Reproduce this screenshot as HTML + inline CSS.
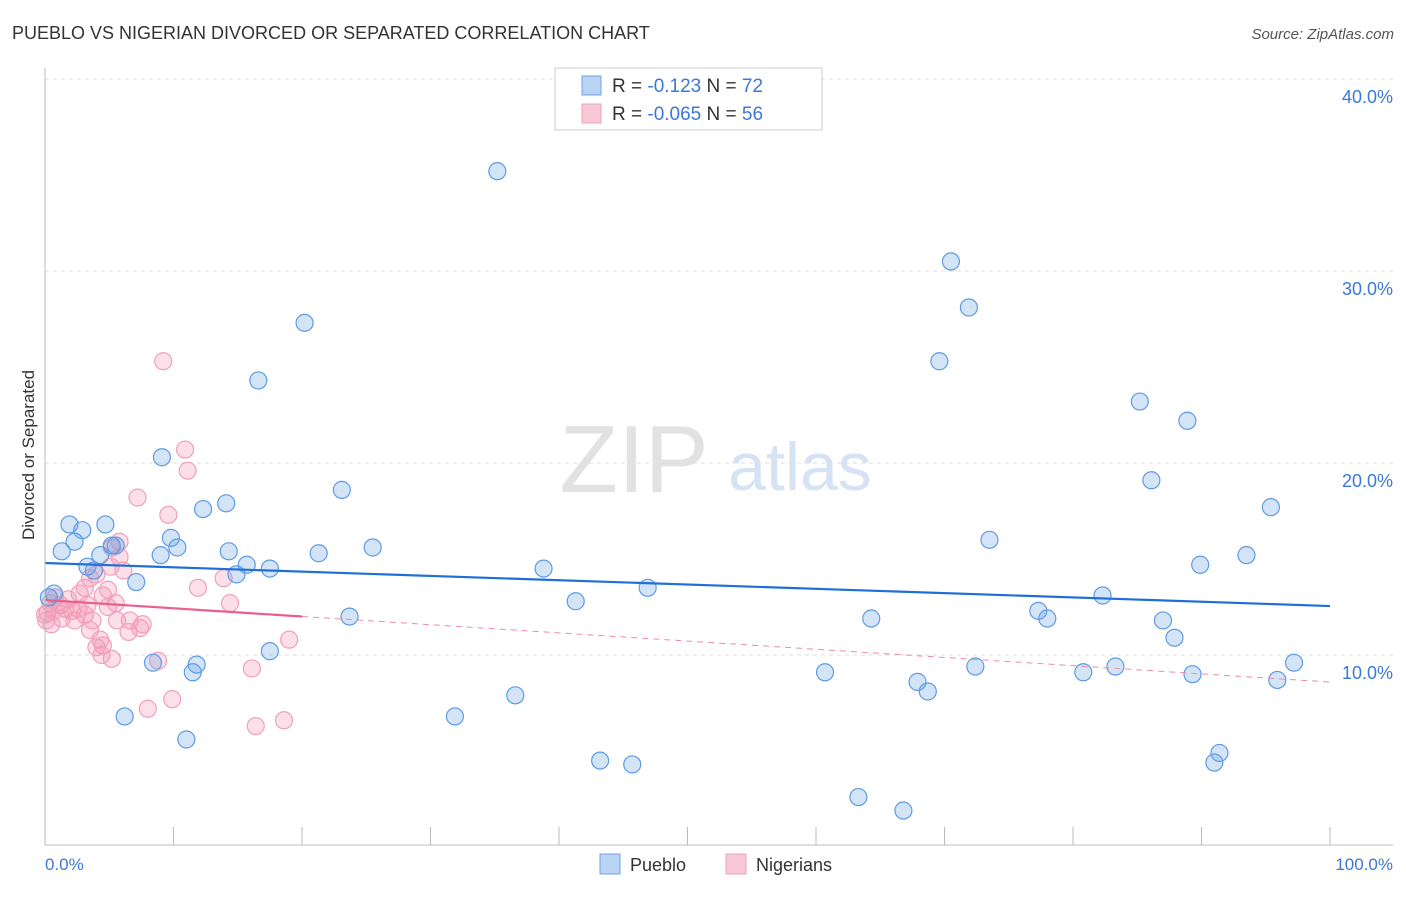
<!DOCTYPE html>
<html><head><meta charset="utf-8"><style>
body{margin:0;background:#fff;font-family:"Liberation Sans",sans-serif}
svg text{font-family:"Liberation Sans",sans-serif}
</style></head><body>
<svg id="c" width="1406" height="892" xmlns="http://www.w3.org/2000/svg">
<text x="12" y="39" font-size="18" fill="#333">PUEBLO VS NIGERIAN DIVORCED OR SEPARATED CORRELATION CHART</text>
<text x="1394" y="39" font-size="15" fill="#555" font-style="italic" text-anchor="end">Source: ZipAtlas.com</text>
<text x="634" y="492" font-size="96" fill="#e2e2e2" font-family="Liberation Serif" text-anchor="middle">ZIP</text>
<text x="800" y="490" font-size="68" fill="#d5e3f5" text-anchor="middle">atlas</text>
<text transform="translate(34,455) rotate(-90)" font-size="17" fill="#333" text-anchor="middle">Divorced or Separated</text>
<g id="grid"></g><g id="pts"></g><g id="lines"></g>
<line x1="45" y1="68" x2="45" y2="845" stroke="#bbb"/>
<line x1="45" y1="845" x2="1393" y2="845" stroke="#bbb"/>
<text x="45" y="870" font-size="17" fill="#3b78d8">0.0%</text>
<text x="1393" y="870" font-size="17" fill="#3b78d8" text-anchor="end">100.0%</text>
<g>
<rect x="555" y="68" width="267" height="62" fill="#fff" stroke="#ccc"/>
<rect x="582" y="76" width="19" height="19" fill="#b9d3f3" stroke="#6fa3e6"/>
<rect x="582" y="104" width="19" height="19" fill="#f9c8d6" stroke="#f0a0b8"/>
<text x="612" y="92" font-size="19" fill="#333">R = <tspan fill="#3b78d8">  -0.123</tspan>    N = <tspan fill="#3b78d8">72</tspan></text>
<text x="612" y="120" font-size="19" fill="#333">R = <tspan fill="#3b78d8">-0.065</tspan>    N = <tspan fill="#3b78d8">56</tspan></text>
</g>
<g>
<rect x="600" y="854" width="20" height="20" fill="#b9d3f3" stroke="#6fa3e6"/>
<text x="630" y="871" font-size="18" fill="#333">Pueblo</text>
<rect x="726" y="854" width="20" height="20" fill="#f9c8d6" stroke="#f0a0b8"/>
<text x="756" y="871" font-size="18" fill="#333">Nigerians</text>
</g>
</svg>
<script>
const yTicks=[10,20,30,40];
const yTickLabels=["10.0%","20.0%","30.0%","40.0%"];
const xTicks=[10,20,30,40,50,60,70,80,90,100];
const puebloX=[35.2,70.5,71.9,69.6,20.2,16.6,85.2,88.9,9.1,86.1,23.1,14.1,12.3,95.4,1.9,4.7,2.9,2.3,1.3,4.3,5.5,9.8,10.3,9.0,14.3,21.3,25.5,73.5,93.5,89.9,15.7,17.5,38.8,3.8,3.3,14.9,7.1,46.9,82.3,41.3,0.7,0.3,77.3,78.0,23.7,64.3,87.0,87.9,17.5,8.4,11.8,11.5,72.4,60.7,80.8,83.3,97.2,89.3,67.9,68.7,95.9,36.6,6.2,31.9,11.0,91.4,43.2,91.0,45.7,63.3,66.8,5.2];
const puebloY=[35.2,30.5,28.1,25.3,27.3,24.3,23.2,22.2,20.3,19.1,18.6,17.9,17.6,17.7,16.8,16.8,16.5,15.9,15.4,15.2,15.7,16.1,15.6,15.2,15.4,15.3,15.6,16.0,15.2,14.7,14.7,14.5,14.5,14.4,14.6,14.2,13.8,13.5,13.1,12.8,13.2,13.0,12.3,11.9,12.0,11.9,11.8,10.9,10.2,9.6,9.5,9.1,9.4,9.1,9.1,9.4,9.6,9.0,8.6,8.1,8.7,7.9,6.8,6.8,5.6,4.9,4.5,4.4,4.3,2.6,1.9,15.7];
const nigX=[9.2,10.9,11.1,7.2,9.6,5.8,5.2,5.8,6.1,4.0,3.5,3.1,2.7,4.5,0.8,0.4,1.2,1.6,0.2,2.1,2.6,1.3,0.5,0.1,3.3,4.9,5.5,6.6,7.4,7.6,6.5,5.6,3.5,4.3,4.0,4.5,4.4,5.2,13.9,11.9,14.4,16.1,19.0,16.4,18.6,8.0,9.9,8.8,0.7,3.1,1.8,4.9,2.3,0.0,3.7,5.1];
const nigY=[25.3,20.7,19.6,18.2,17.3,15.9,15.6,15.1,14.4,14.2,14.0,13.5,13.2,13.1,13.0,12.7,12.6,12.4,12.2,12.3,12.4,11.9,11.6,11.8,12.6,12.5,12.7,11.8,11.4,11.6,11.2,11.8,11.3,10.8,10.4,10.5,10.0,9.8,14.0,13.5,12.7,9.3,10.8,6.3,6.6,7.2,7.7,9.7,12.3,12.1,12.9,13.4,11.8,12.1,11.8,14.6];
const puebloTrend=[14.79,12.55];
const nigTrend=[12.86,8.59];
const NS='http://www.w3.org/2000/svg';
const X=v=>45+v*12.85, Y=v=>847-v*19.2;
function mk(t,a,p){const e=document.createElementNS(NS,t);for(const k in a)e.setAttribute(k,a[k]);p.appendChild(e);return e;}
const grid=document.getElementById('grid');
yTicks.forEach((t,i)=>{
 const l=mk('line',{x1:45,x2:1393,y1:Y(t),y2:Y(t),stroke:'#ddd','stroke-dasharray':'4,4'},grid);
 
 
 const tx=mk('text',{x:1393,y:Y(t)+24,'font-size':18,fill:'#3b78d8','text-anchor':'end'},grid);
 tx.textContent=yTickLabels[i];
 
 
});
xTicks.forEach(t=>{
 const l=mk('line',{x1:X(t),x2:X(t),y1:827,y2:845,stroke:'#bbb'},grid);
 
 
});
const pts=document.getElementById('pts');
nigX.forEach((v,i)=>{
 const c=mk('circle',{cx:X(v),cy:Y(nigY[i]),r:8.5,fill:'rgba(245,150,180,0.3)',stroke:'#f0a0b8','stroke-width':1.2},pts);
 
 
});
puebloX.forEach((v,i)=>{
 const c=mk('circle',{cx:X(v),cy:Y(puebloY[i]),r:8.5,fill:'rgba(110,165,230,0.3)',stroke:'#5e9be4','stroke-width':1.2},pts);
 
 
});
const lines=document.getElementById('lines');
const bl=mk('line',{x1:X(0),y1:Y(puebloTrend[0]),x2:X(100),y2:Y(puebloTrend[1]),stroke:'#1f6fd6','stroke-width':2.2},lines);


const py=x=>nigTrend[0]+(nigTrend[1]-nigTrend[0])*x/100;
const pd=mk('line',{x1:X(20),y1:Y(py(20)),x2:X(100),y2:Y(py(100)),stroke:'#f08aa8','stroke-width':1,'stroke-dasharray':'6,5'},lines);


const ps=mk('line',{x1:X(0),y1:Y(py(0)),x2:X(20),y2:Y(py(20)),stroke:'#e8608a','stroke-width':2.2},lines);


</script>
</body></html>
